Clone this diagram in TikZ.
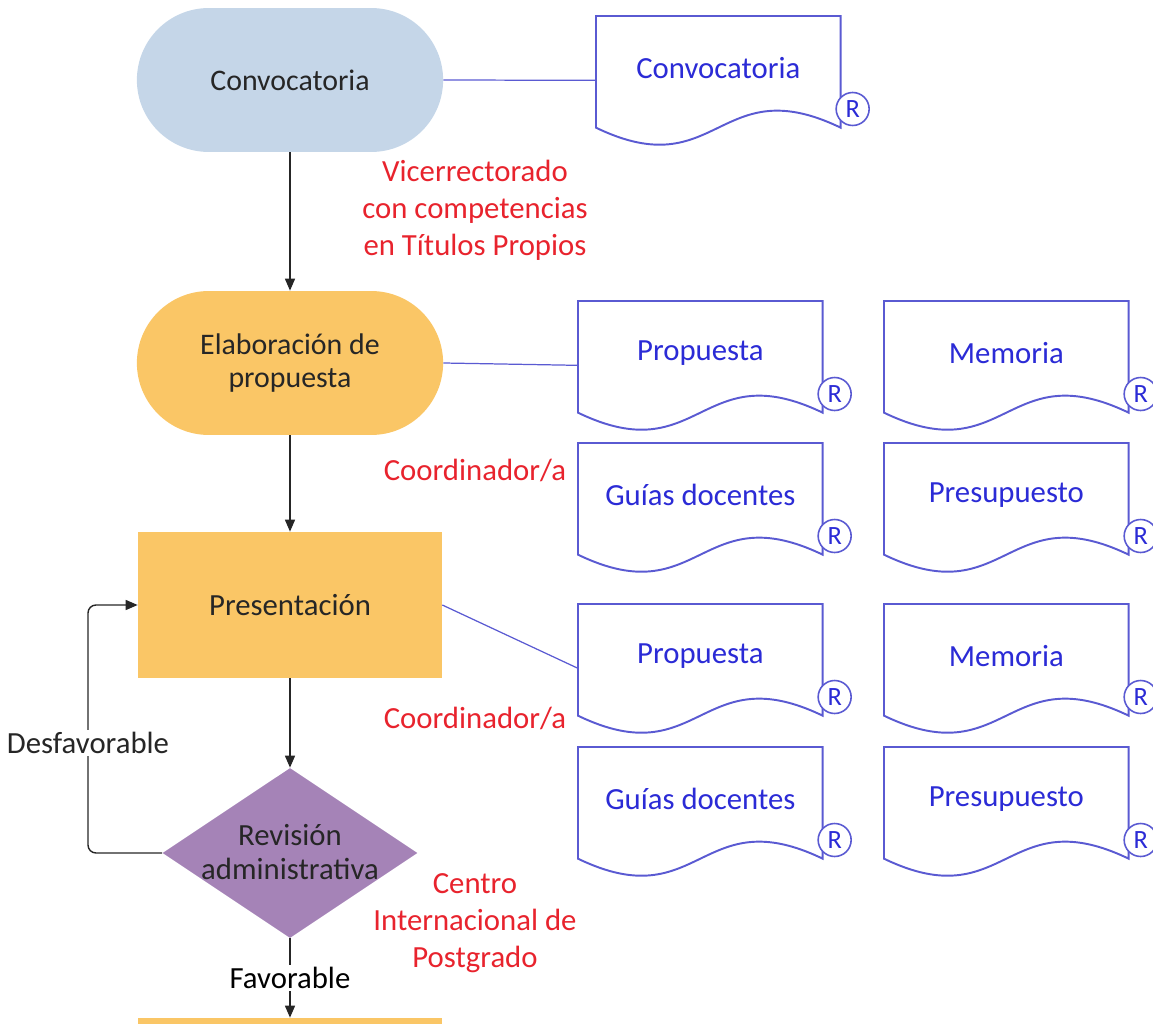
\documentclass[tikz,border=0pt]{standalone}
\usepackage{fontspec}
\setmainfont{Carlito}
\usepackage{tikz}
\usetikzlibrary{shapes.geometric,shapes.misc,arrows.meta,calc}
\definecolor{boxblue}{HTML}{C5D6E8}
\definecolor{boxyellow}{HTML}{FAC666}
\definecolor{boxpurple}{HTML}{A583B7}
\definecolor{docline}{HTML}{5A5AD2}
\definecolor{doctext}{HTML}{2B2BD6}
\definecolor{redtext}{HTML}{E8232D}
\tikzstyle{stadium}=[rounded rectangle,fill=boxblue,minimum width=6.36cm,
                     minimum height=2.88cm,align=center,text=black!85,
                     font=\fontsize{17}{19}\selectfont]
\tikzstyle{process}=[rectangle,fill=boxyellow,minimum width=6.08cm,
                     minimum height=2.92cm,align=center,text=black!85]
\tikzstyle{check}=[diamond,fill=boxpurple,inner sep=0pt,
                   minimum width=5.1cm,minimum height=3.4cm]
\tikzstyle{docbox}=[rectangle,inner sep=0pt,minimum width=4.88cm,
                    minimum height=2.56cm,anchor=north west]
\tikzstyle{docshape}=[draw=docline,line width=1.1pt,fill=white]
\tikzstyle{regmark}=[circle,draw=docline,line width=0.9pt,fill=white,
                     text=doctext,inner sep=0pt,minimum size=6.6mm,
                     font=\fontsize{15}{17}\selectfont]
\tikzstyle{flow}=[draw=black!85,line width=0.8pt,
                  -{Triangle[length=2.4mm,width=2mm]}]
\tikzstyle{link}=[draw=docline,line width=0.7pt]
\tikzstyle{who}=[text=redtext,align=center]

\begin{document}
\begin{tikzpicture}[x=0.02cm,y=0.02cm,font=\fontsize{17.5}{21}\selectfont]
    \useasboundingbox (0,0) rectangle (1153,-1024);
    \clip (0,0) rectangle (1153,-1024);
    % document with the R mark
    \newcommand{\docu}[4]{%
      \node[docbox] (#1) at (#2,#3) {};
      \draw[docshape] (#1.north west) -- (#1.north east)
        -- ($(#1.south east)+(0,17)$)
        .. controls ($(#1.south)+(0,76)$) and ($(#1.south)+(0,-42)$)
        .. ($(#1.south west)+(0,17)$) -- cycle;
      \node[text=doctext] (#1t) at ($(#1.north)+(0,-52)$) {#4};
      \node[regmark] (#1r) at ($(#1.north east)+(12,-93)$) {R};
    }

    \node (conv) at (290,-80) [stadium]{Convocatoria};
    \node (elab) at (290,-363) [stadium,fill=boxyellow]{Elaboración de\\propuesta};
    \node (pres) at (290,-605) [process]{Presentación};
    \node (rev) at (290,-853) [check]{};
    \node (revt) at (290,-852) [align=center,text=black!85,
          font=\fontsize{17.5}{19}\selectfont]{Revisión\\administrativa};
    \node (next) at (290,-1091) [process]{};

    \docu{dconv}{596}{-16}{Convocatoria}
    \docu{dprop1}{578}{-301}{Propuesta}
    \docu{dmem1}{884}{-301}{Memoria}
    \docu{dguia1}{578}{-443}{Guías docentes}
    \docu{dpres1}{884}{-443}{Presupuesto}
    \docu{dprop2}{578}{-604}{Propuesta}
    \docu{dmem2}{884}{-604}{Memoria}
    \docu{dguia2}{578}{-747}{Guías docentes}
    \docu{dpres2}{884}{-747}{Presupuesto}

    \draw[link] (conv.east) -- (dconv.west);
    \draw[link] (elab.east) -- (dprop1.west);
    \draw[link] (pres.east) -- (dprop2.west);

    \draw[flow] (conv.south) -- (elab.north);
    \draw[flow] (elab.south) -- (pres.north);
    \draw[flow] (pres.south) -- (rev.north);
    \draw[flow] (rev.south) -- node[fill=white,inner sep=1pt] (fav){Favorable} (next.north);
    \draw[flow,rounded corners=0.16cm] (rev.west) -- (88,-853) -- (88,-605) -- (pres.west);
    \node (desf) at (88,-743) [fill=white,inner sep=1pt,text=black!85]{Desfavorable};

    \node (vic) at (475,-210) [who]{Vicerrectorado\\con competencias\\en Títulos Propios};
    \node (coord1) at (475,-470) [who]{Coordinador/a};
    \node (coord2) at (475,-718) [who]{Coordinador/a};
    \node (cip) at (475,-923) [who]{Centro\\Internacional de\\Postgrado};
  \end{tikzpicture}
\end{document}
